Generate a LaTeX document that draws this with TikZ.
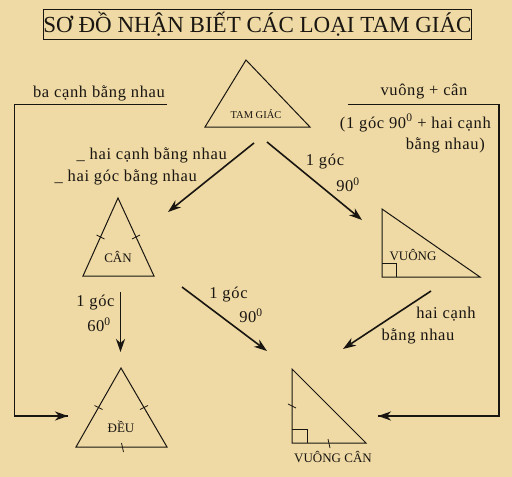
\documentclass[tikz,border=0pt]{standalone}
\usepackage{fontspec}
\setmainfont{Liberation Serif}
\newfontfamily\lblfont{Liberation Serif}[LetterSpace=4]
\usetikzlibrary{arrows.meta,calc}
\definecolor{paper}{RGB}{239,217,164}
\definecolor{ink}{RGB}{25,22,18}
\tikzset{
  tri/.style={draw=ink, line width=1pt, line join=miter},
  tick/.style={draw=ink, line width=0.8pt},
  arr/.style={draw=ink, line width=1.6pt, -{Stealth[length=13pt,width=9pt,inset=4pt]}},
  brk/.style={draw=ink, line width=1.8pt},
  lbl/.style={text=ink, font=\lblfont\fontsize{16.5}{18}\selectfont, inner sep=0pt},
  tlbl/.style={text=ink, font=\fontsize{13}{14}\selectfont, inner sep=0pt},
  slbl/.style={text=ink, font=\fontsize{10.5}{12}\selectfont, inner sep=0pt},
}
\begin{document}
\begin{tikzpicture}[x=1pt,y=-1pt]
\fill[paper] (0,0) rectangle (512,477);
\useasboundingbox (0,0) rectangle (512,477);
% title
\node[draw=ink, line width=0.6pt, text=ink, font=\fontsize{23}{24}\selectfont, inner sep=0pt,
  minimum width=423pt, minimum height=30pt] (title) at (257.5,24) {SƠ ĐỒ NHẬN BIẾT CÁC LOẠI TAM GIÁC};
% TAM GIAC
\coordinate (tA) at (246,60); \coordinate (tB) at (205,127); \coordinate (tC) at (310,127);
\draw[tri] (tA) -- (tB) -- (tC) -- cycle;
\node[slbl] (tamgiac) at (256,114) {TAM GIÁC};
% CAN
\coordinate (cA) at (118,198); \coordinate (cB) at (83,276); \coordinate (cC) at (154,276);
\draw[tri] (cA) -- (cB) -- (cC) -- cycle;
\node[tlbl] (can) at (118,257) {CÂN};
% VUONG
\coordinate (vA) at (382,209); \coordinate (vB) at (382,277); \coordinate (vC) at (480,277);
\draw[tri] (vA) -- (vB) -- (vC) -- cycle;
\draw[tick] (382,263) -- (396,263) -- (396,277);
\node[tlbl] (vuong) at (413,255) {VUÔNG};
% DEU
\coordinate (dA) at (121,368); \coordinate (dB) at (76,447); \coordinate (dC) at (167,447);
\draw[tri] (dA) -- (dB) -- (dC) -- cycle;
\node[tlbl] (deu) at (121,427) {ĐỀU};
% VUONG CAN
\coordinate (kA) at (292,369); \coordinate (kB) at (292,443); \coordinate (kC) at (366,443);
\draw[tri] (kA) -- (kB) -- (kC) -- cycle;
\draw[tick] (292,429) -- (307,429) -- (307,443);
\node[tlbl] (vuongcan) at (333,457) {VUÔNG CÂN};
% ticks
\draw[tick] (96.5,235) -- (104.5,239);
\draw[tick] (132,239) -- (140,235);
\draw[tick] (94.5,405.5) -- (102.5,409.5);
\draw[tick] (140,409.5) -- (148,405.5);
\draw[tick] (121.5,443) -- (123.5,452);
\draw[tick] (288,404) -- (296,408);
\draw[tick] (328,439) -- (330,448);
% arrows
\coordinate (a1s) at (254,143); \coordinate (a1e) at (168,212);
\coordinate (a2s) at (267,142); \coordinate (a2e) at (362,220);
\coordinate (a3s) at (120.5,292); \coordinate (a3e) at (120.5,352);
\coordinate (a4s) at (182,287); \coordinate (a4e) at (267,351);
\coordinate (a5s) at (431,291); \coordinate (a5e) at (343,349);
\draw[arr] (a1s) -- (a1e);
\draw[arr] (a2s) -- (a2e);
\draw[arr] (a3s) -- (a3e);
\draw[arr] (a4s) -- (a4e);
\draw[arr] (a5s) -- (a5e);
% brackets
\coordinate (l1) at (167,104.5); \coordinate (l2) at (14.5,104.5); \coordinate (l3) at (14.5,416); \coordinate (l4) at (68,416);
\draw[brk] (l1) -- (l2) -- (l3) -- (l4);
\draw[arr] ($(l4)+(-25,0)$) -- (l4);
\coordinate (r1) at (348,104.5); \coordinate (r2) at (499,104.5); \coordinate (r3) at (499,416); \coordinate (r4) at (378,416);
\draw[brk] (r1) -- (r2) -- (r3) -- (r4);
\draw[arr] ($(r4)+(25,0)$) -- (r4);
% labels
\node[lbl] (t1) at (99,93) {ba cạnh bằng nhau};
\node[lbl] (t2) at (424,92) {vuông + cân};
\node[lbl, anchor=east] (t3) at (491,123) {(1 góc 90\textsuperscript{0} + hai cạnh};
\node[lbl, anchor=east] (t4) at (485,145) {bằng nhau)};
\node[lbl, anchor=east] (t5) at (227,155) {\_ hai cạnh bằng nhau};
\node[lbl, anchor=east] (t6) at (197,177) {\_ hai góc bằng nhau};
\node[lbl] (t7) at (325,162) {1 góc};
\node[lbl] (t8) at (348,185) {90\textsuperscript{0}};
\node[lbl] (t9) at (95.5,303) {1 góc};
\node[lbl] (t10) at (99,325) {60\textsuperscript{0}};
\node[lbl] (t11) at (228.5,295) {1 góc};
\node[lbl] (t12) at (251,316) {90\textsuperscript{0}};
\node[lbl] (t13) at (446,314) {hai cạnh};
\node[lbl] (t14) at (418,336) {bằng nhau};
\end{tikzpicture}
\end{document}
